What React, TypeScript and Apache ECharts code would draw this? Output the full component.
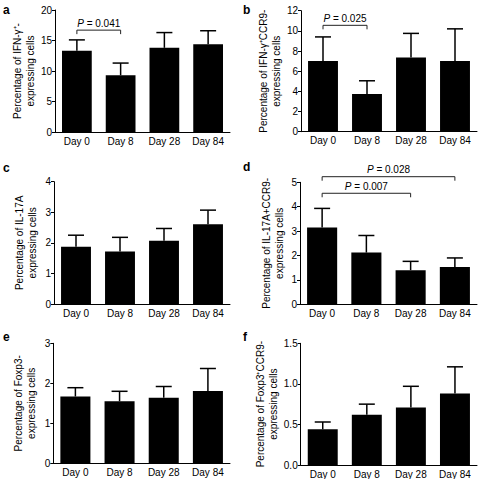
import React, { useEffect, useRef } from "react";
import * as echarts from "echarts";

const categories = ["Day 0", "Day 8", "Day 28", "Day 84"];

// a: IFN-γ
const ifngMean = [13.3, 9.3, 13.8, 14.4];
const ifngTop = [15.1, 11.3, 16.3, 16.6];
// b: IFN-γ+CCR9
const ifngCcr9Mean = [7.0, 3.75, 7.35, 7.0];
const ifngCcr9Top = [9.4, 5.05, 9.75, 10.2];
// c: IL-17A
const il17Mean = [1.87, 1.72, 2.07, 2.61];
const il17Top = [2.25, 2.18, 2.47, 3.07];
// d: IL-17A+CCR9
const il17Ccr9Mean = [3.15, 2.12, 1.4, 1.53];
const il17Ccr9Top = [3.93, 2.82, 1.76, 1.9];
// e: Foxp3
const foxp3Mean = [1.67, 1.55, 1.64, 1.81];
const foxp3Top = [1.89, 1.8, 1.92, 2.37];
// f: Foxp3+CCR9
const foxp3Ccr9Mean = [0.44, 0.62, 0.71, 0.88];
const foxp3Ccr9Top = [0.53, 0.75, 0.97, 1.21];

const yMax = [20, 12, 4, 5, 3, 1.5];
const yInterval = [5, 2, 1, 1, 1, 0.5];
const yNames = [
  "Percentage of IFN-γ⁺-\nexpressing cells",
  "Percentage of IFN-γ⁺CCR9-\nexpressing cells",
  "Percentage of IL-17A\nexpressing cells",
  "Percentage of IL-17A+CCR9-\nexpressing cells",
  "Percentage of Foxp3-\nexpressing cells",
  "Percentage of Foxp3⁺CCR9-\nexpressing cells",
];
const panelLetters = ["a", "b", "c", "d", "e", "f"];

// brackets: [fromIndex, toIndex, yValue, pText]
const bracketsA = [[0, 1, 16.7, "0.041"]];
const bracketsB = [[0, 1, 10.55, "0.025"]];
const bracketsD = [
  [0, 3, 5.23, "0.028"],
  [0, 2, 4.55, "0.007"],
];

const FONT = "'Liberation Sans', Arial, Helvetica, sans-serif";

export default function App() {
  const ref = useRef<HTMLDivElement>(null);
  useEffect(() => {
    document.body.style.margin = "0";
    const chart = echarts.init(ref.current!, null, { renderer: "svg" });

    const means = [ifngMean, ifngCcr9Mean, il17Mean, il17Ccr9Mean, foxp3Mean, foxp3Ccr9Mean];
    const tops = [ifngTop, ifngCcr9Top, il17Top, il17Ccr9Top, foxp3Top, foxp3Ccr9Top];
    const brackets: any[][] = [bracketsA, bracketsB, [], bracketsD, [], []];

    const grids = [
      { left: 55, right: 250, top: 10, bottom: 347 },
      { left: 301, right: 3, top: 10.7, bottom: 347.3 },
      { left: 54, right: 250, top: 181.7, bottom: 175 },
      { left: 300, right: 3, top: 182.3, bottom: 174.7 },
      { left: 53.3, right: 250, top: 343.3, bottom: 15.7 },
      { left: 300.7, right: 3, top: 343.3, bottom: 14 },
    ];
    const nameGaps = [14, 13, 15, 14, 15, 13];
    const letterPos = [
      [3, 4],
      [243, 4],
      [3, 162],
      [243, 161],
      [3, 331],
      [243, 331],
    ];

    const xAxis: any[] = [];
    const yAxis: any[] = [];
    const series: any[] = [];
    const graphic: any[] = [];

    for (let p = 0; p < 6; p++) {
      xAxis.push({
        type: "category",
        gridIndex: p,
        data: categories,
        axisLine: { lineStyle: { color: "#000", width: 1 } },
        axisTick: { show: false },
        axisLabel: { color: "#000", fontSize: 10, fontFamily: FONT, margin: 4 },
      });
      yAxis.push({
        type: "value",
        gridIndex: p,
        min: 0,
        max: yMax[p],
        interval: yInterval[p],
        name: yNames[p],
        nameLocation: "middle",
        nameRotate: 90,
        nameGap: nameGaps[p],
        nameTextStyle: { color: "#000", fontSize: 10, fontFamily: FONT, lineHeight: 13 },
        splitLine: { show: false },
        axisLine: { show: true, lineStyle: { color: "#000", width: 1 } },
        axisTick: { show: true, length: 3, lineStyle: { color: "#000" } },
        axisLabel: {
          color: "#000",
          fontSize: 10,
          fontFamily: FONT,
          margin: 3,
          formatter: (v: number) => (p === 5 ? v.toFixed(1) : String(v)),
        },
      });
      series.push({
        type: "bar",
        xAxisIndex: p,
        yAxisIndex: p,
        data: means[p],
        barCategoryGap: "32%",
        itemStyle: { color: "#000" },
        silent: true,
      });
      const errData = means[p].map((m, i) => [i, m, tops[p][i]]);
      series.push({
        type: "custom",
        xAxisIndex: p,
        yAxisIndex: p,
        data: errData,
        encode: { x: 0, y: [1, 2] },
        silent: true,
        renderItem: (_params: any, api: any) => {
          const i = api.value(0);
          const p0 = api.coord([i, api.value(1)]);
          const p1 = api.coord([i, api.value(2)]);
          const half = 8;
          return {
            type: "group",
            children: [
              {
                type: "line",
                shape: { x1: p0[0], y1: p0[1], x2: p1[0], y2: p1[1] },
                style: { stroke: "#000", lineWidth: 1.5 },
              },
              {
                type: "line",
                shape: { x1: p1[0] - half, y1: p1[1], x2: p1[0] + half, y2: p1[1] },
                style: { stroke: "#000", lineWidth: 1.5 },
              },
            ],
          };
        },
      });
      if (brackets[p].length) {
        const br = brackets[p];
        series.push({
          type: "custom",
          xAxisIndex: p,
          yAxisIndex: p,
          data: br.map((b) => [b[0], b[1], b[2]]),
          encode: { x: [0, 1], y: 2 },
          silent: true,
          clip: false,
          renderItem: (params: any, api: any) => {
            const a = api.coord([api.value(0), api.value(2)]);
            const b = api.coord([api.value(1), api.value(2)]);
            const y = a[1];
            const tick = 4;
            const label = br[params.dataIndex][3];
            return {
              type: "group",
              children: [
                {
                  type: "polyline",
                  shape: {
                    points: [
                      [a[0], y + tick],
                      [a[0], y],
                      [b[0], y],
                      [b[0], y + tick],
                    ],
                  },
                  style: { stroke: "#222", lineWidth: 1, fill: "none" },
                },
                {
                  type: "text",
                  x: (a[0] + b[0]) / 2,
                  y: y - 2,
                  style: {
                    text: "{i|P} = " + label,
                    rich: { i: { fontStyle: "italic", fontSize: 10, fontFamily: FONT, fill: "#000" } },
                    fontSize: 10,
                    fontFamily: FONT,
                    fill: "#000",
                    align: "center",
                    verticalAlign: "bottom",
                  },
                },
              ],
            };
          },
        });
      }
      graphic.push({
        type: "text",
        left: letterPos[p][0],
        top: letterPos[p][1],
        style: {
          text: panelLetters[p],
          fontSize: 12,
          fontWeight: "bold",
          fontFamily: FONT,
          fill: "#000",
        },
      });
    }

    chart.setOption({
      animation: false,
      backgroundColor: "#fff",
      grid: grids.map((g) => ({ ...g, containLabel: false })),
      xAxis,
      yAxis,
      series,
      graphic,
    });
    return () => chart.dispose();
  }, []);
  return <div ref={ref} style={{ width: 480, height: 479 }} />;
}
